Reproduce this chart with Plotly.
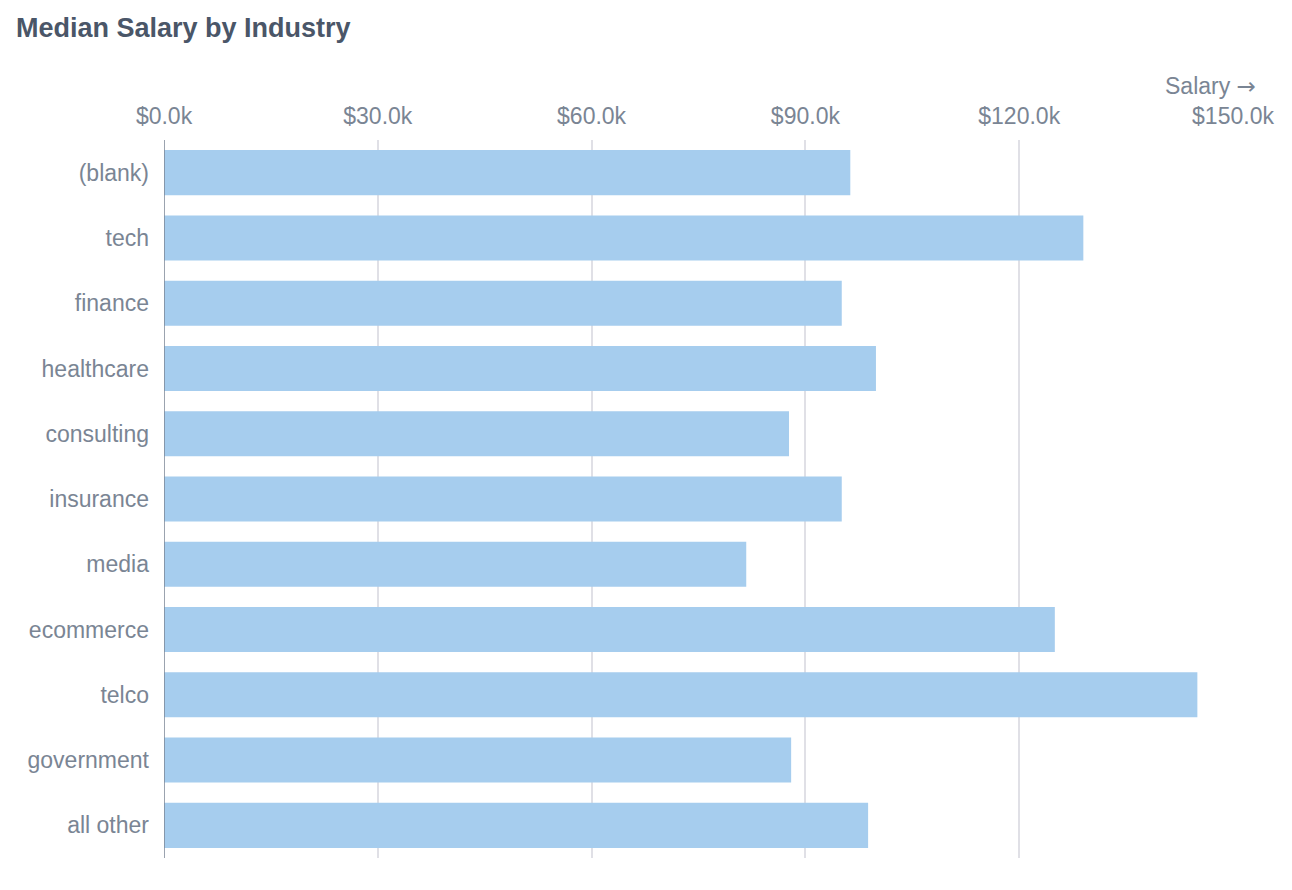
import plotly.graph_objects as go

industries = ["(blank)", "tech", "finance", "healthcare", "consulting", "insurance",
              "media", "ecommerce", "telco", "government", "all other"]
median_salary = [96300, 129000, 95100, 99900, 87700, 95100, 81700, 125000, 145000, 88000, 98800]
tick_values = [0, 30000, 60000, 90000, 120000, 150000]
tick_labels = ["$0.0k", "$30.0k", "$60.0k", "$90.0k", "$120.0k", "$150.0k"]

FONT = "Liberation Sans, Arial, Helvetica, sans-serif"
TICK_COLOR = "#7a8594"

# page body has an 8px offset; plot area in page coords: x 164..1233, y 140..858
L, R, T, B = 156, 1292 - 1225, 132, 890 - 850
PW, PH = 1292 - L - R, 890 - T - B

fig = go.Figure(go.Bar(
    x=median_salary, y=industries, orientation="h",
    marker=dict(color="#a6cdee", line=dict(width=0)),
    width=0.69,
))

fig.update_layout(
    width=1292, height=890,
    margin=dict(l=L, r=R, t=T, b=B),
    paper_bgcolor="white", plot_bgcolor="white",
    showlegend=False,
    font=dict(family=FONT, color=TICK_COLOR, size=23),
    title=dict(text="<b>Median Salary by Industry</b>", x=8/1292, xanchor="left",
               y=1-20/890, yanchor="middle",
               font=dict(family=FONT, size=27, color="#4a5668")),
    xaxis=dict(range=[0, 150000], side="top", tickvals=tick_values, ticktext=tick_labels,
               showgrid=True, gridcolor="#e0e0e6", gridwidth=1.5, zeroline=False,
               showline=False, ticks="", ticklen=0, tickfont=dict(size=23, color=TICK_COLOR),
               ticklabelstandoff=10, fixedrange=True),
    yaxis=dict(categoryorder="array", categoryarray=industries, autorange="reversed",
               showgrid=False, zeroline=False, showline=False, ticks="",
               tickfont=dict(size=23, color=TICK_COLOR), ticklabelstandoff=14,
               range=[10.5, -0.5], fixedrange=True),
    shapes=[dict(type="line", xref="x", yref="paper", x0=0, x1=0, y0=0, y1=1.0,
                 line=dict(color="#7a8594", width=1.5))],
    annotations=[dict(text='Salary <span style="font-family:DejaVu Sans">→</span>',
                      xref="paper", yref="paper", x=(1250-L)/PW,
                      y=1+54/PH, xanchor="right", yanchor="middle", showarrow=False,
                      font=dict(family=FONT, size=23, color=TICK_COLOR))],
)

fig.write_html("out.html")
